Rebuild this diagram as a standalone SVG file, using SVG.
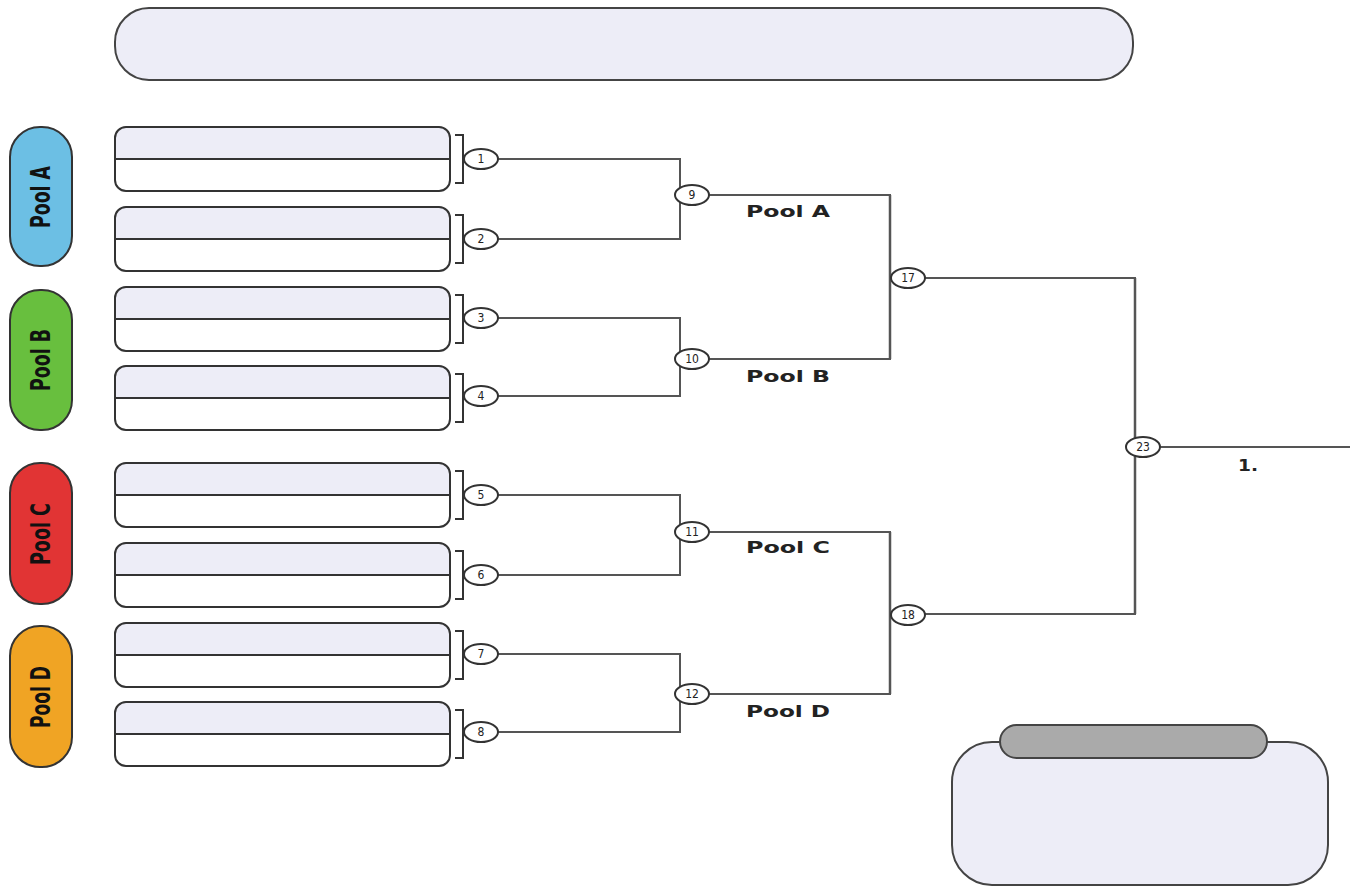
<svg xmlns="http://www.w3.org/2000/svg" width="1355" height="888" viewBox="0 0 1355 888">
<style>
.box{fill:#ededf7;stroke:#444;stroke-width:2}
.team-top{fill:#ededf7}
.team{fill:none;stroke:#333;stroke-width:2}
.div{stroke:#333;stroke-width:2}
.pool{stroke:#333;stroke-width:2}
.pooltxt{font-family:"DejaVu Sans Condensed","DejaVu Sans",sans-serif;font-weight:bold;font-size:26px;fill:#111}
.c{fill:#fff;stroke:#333;stroke-width:2}
.num{font-family:"DejaVu Sans Condensed","DejaVu Sans",sans-serif;font-size:12px;fill:#222;text-anchor:middle}
.lab{font-family:"DejaVu Sans",sans-serif;font-weight:bold;font-size:16px;fill:#222;text-anchor:middle}
.conn{fill:none;stroke:#555;stroke-width:2}
.brk{fill:none;stroke:#333;stroke-width:2}
</style>
<rect width="1355" height="888" fill="#fff"/>
<g id="title"><rect class="box" x="115" y="8" width="1018" height="72" rx="34"/></g>

<g id="pool-a"><rect class="pool" x="10" y="127" width="62" height="139" rx="30" fill="#6cbfe4"/><text class="pooltxt" transform="translate(50,197) rotate(-90)" text-anchor="middle" textLength="62" lengthAdjust="spacingAndGlyphs">Pool A</text></g>
<g id="pool-b"><rect class="pool" x="10" y="290" width="62" height="140" rx="30" fill="#68bf3e"/><text class="pooltxt" transform="translate(50,360) rotate(-90)" text-anchor="middle" textLength="62" lengthAdjust="spacingAndGlyphs">Pool B</text></g>
<g id="pool-c"><rect class="pool" x="10" y="463" width="62" height="141" rx="30" fill="#e13434"/><text class="pooltxt" transform="translate(50,534) rotate(-90)" text-anchor="middle" textLength="62" lengthAdjust="spacingAndGlyphs">Pool C</text></g>
<g id="pool-d"><rect class="pool" x="10" y="626" width="62" height="141" rx="30" fill="#f0a424"/><text class="pooltxt" transform="translate(50,697) rotate(-90)" text-anchor="middle" textLength="62" lengthAdjust="spacingAndGlyphs">Pool D</text></g>

<defs>
<clipPath id="tc"><rect x="0" y="0" width="335" height="32"/></clipPath>
<g id="teambox">
<rect x="0" y="0" width="335" height="64" rx="11" fill="#fff"/>
<rect x="0" y="0" width="335" height="64" rx="11" class="team-top" clip-path="url(#tc)"/>
<line class="div" x1="0" y1="32" x2="335" y2="32"/>
<rect class="team" x="0" y="0" width="335" height="64" rx="11"/>
<path class="brk" d="M340,8 H348 V56 H340"/>
</g>
</defs>

<g id="team1"><use href="#teambox" x="115" y="127"/></g>
<g id="team2"><use href="#teambox" x="115" y="207"/></g>
<g id="team3"><use href="#teambox" x="115" y="287"/></g>
<g id="team4"><use href="#teambox" x="115" y="366"/></g>
<g id="team5"><use href="#teambox" x="115" y="463"/></g>
<g id="team6"><use href="#teambox" x="115" y="543"/></g>
<g id="team7"><use href="#teambox" x="115" y="623"/></g>
<g id="team8"><use href="#teambox" x="115" y="702"/></g>

<g id="connectors">
<path class="conn" d="M498,159 H680 V239 H498"/>
<path class="conn" d="M498,318 H680 V396 H498"/>
<path class="conn" d="M498,495 H680 V575 H498"/>
<path class="conn" d="M498,654 H680 V732 H498"/>
<path class="conn" d="M709,195 H890 V359 H709"/>
<path class="conn" d="M709,532 H890 V694 H709"/>
<path class="conn" style="stroke-width:2.5" d="M890,195 V359 M890,532 V694"/>
<path class="conn" d="M925,278 H1135 V614 H925"/>
<path class="conn" style="stroke-width:2.5" d="M1135,278 V614"/>
<path class="conn" d="M1160,447 H1350"/>
</g>

<g id="m1"><ellipse class="c" cx="481" cy="159" rx="17" ry="10"/><text class="num" x="481" y="163">1</text></g>
<g id="m2"><ellipse class="c" cx="481" cy="239" rx="17" ry="10"/><text class="num" x="481" y="243">2</text></g>
<g id="m3"><ellipse class="c" cx="481" cy="318" rx="17" ry="10"/><text class="num" x="481" y="322">3</text></g>
<g id="m4"><ellipse class="c" cx="481" cy="396" rx="17" ry="10"/><text class="num" x="481" y="400">4</text></g>
<g id="m5"><ellipse class="c" cx="481" cy="495" rx="17" ry="10"/><text class="num" x="481" y="499">5</text></g>
<g id="m6"><ellipse class="c" cx="481" cy="575" rx="17" ry="10"/><text class="num" x="481" y="579">6</text></g>
<g id="m7"><ellipse class="c" cx="481" cy="654" rx="17" ry="10"/><text class="num" x="481" y="658">7</text></g>
<g id="m8"><ellipse class="c" cx="481" cy="732" rx="17" ry="10"/><text class="num" x="481" y="736">8</text></g>
<g id="m9"><ellipse class="c" cx="692" cy="195" rx="17" ry="10"/><text class="num" x="692" y="199">9</text></g>
<g id="m10"><ellipse class="c" cx="692" cy="359" rx="17" ry="10"/><text class="num" x="692" y="363">10</text></g>
<g id="m11"><ellipse class="c" cx="692" cy="532" rx="17" ry="10"/><text class="num" x="692" y="536">11</text></g>
<g id="m12"><ellipse class="c" cx="692" cy="694" rx="17" ry="10"/><text class="num" x="692" y="698">12</text></g>
<g id="m17"><ellipse class="c" cx="908" cy="278" rx="17" ry="10"/><text class="num" x="908" y="282">17</text></g>
<g id="m18"><ellipse class="c" cx="908" cy="615" rx="17" ry="10"/><text class="num" x="908" y="619">18</text></g>
<g id="m23"><ellipse class="c" cx="1143" cy="447" rx="17" ry="10"/><text class="num" x="1143" y="451">23</text></g>

<g id="labels">
<text class="lab" x="788" y="217" textLength="84" lengthAdjust="spacingAndGlyphs">Pool A</text>
<text class="lab" x="788" y="382" textLength="84" lengthAdjust="spacingAndGlyphs">Pool B</text>
<text class="lab" x="788" y="553" textLength="84" lengthAdjust="spacingAndGlyphs">Pool C</text>
<text class="lab" x="788" y="717" textLength="84" lengthAdjust="spacingAndGlyphs">Pool D</text>
<text class="lab" x="1248" y="471" textLength="20" lengthAdjust="spacingAndGlyphs">1.</text>
</g>

<g id="winner">
<rect class="box" x="952" y="742" width="376" height="143" rx="40"/>
<rect x="1000" y="725" width="267" height="33" rx="16.5" fill="#aaa" stroke="#444" stroke-width="2"/>
</g>
</svg>
